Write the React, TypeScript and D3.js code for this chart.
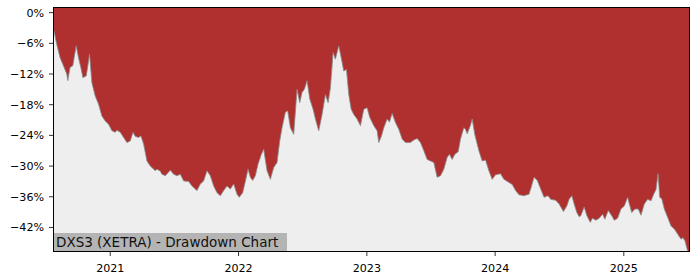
import React from 'react';
import * as d3 from 'd3';

// decimal year of each observation
const DATES: number[] = [
  2020.558, 2020.563, 2020.584, 2020.610, 2020.636, 2020.662, 2020.670, 2020.688, 2020.709, 2020.735,
  2020.753, 2020.771, 2020.787, 2020.813, 2020.826, 2020.839, 2020.857, 2020.883, 2020.909, 2020.935,
  2020.961, 2020.987, 2021.013, 2021.039, 2021.052, 2021.078, 2021.104, 2021.130, 2021.156, 2021.177,
  2021.195, 2021.221, 2021.239, 2021.260, 2021.286, 2021.312, 2021.351, 2021.364, 2021.390, 2021.403,
  2021.429, 2021.468, 2021.494, 2021.520, 2021.546, 2021.572, 2021.611, 2021.637, 2021.676, 2021.702,
  2021.728, 2021.754, 2021.780, 2021.806, 2021.832, 2021.858, 2021.884, 2021.910, 2021.936, 2021.962,
  2021.988, 2022.006, 2022.032, 2022.053, 2022.074, 2022.092, 2022.110, 2022.131, 2022.152, 2022.178,
  2022.196, 2022.222, 2022.248, 2022.274, 2022.300, 2022.321, 2022.339, 2022.365, 2022.383, 2022.404,
  2022.430, 2022.456, 2022.477, 2022.495, 2022.513, 2022.534, 2022.555, 2022.581, 2022.599, 2022.625,
  2022.651, 2022.677, 2022.698, 2022.716, 2022.737, 2022.755, 2022.781, 2022.800, 2022.820, 2022.841,
  2022.859, 2022.878, 2022.898, 2022.924, 2022.950, 2022.976, 2023.002, 2023.023, 2023.054, 2023.080,
  2023.093, 2023.114, 2023.132, 2023.158, 2023.176, 2023.197, 2023.223, 2023.249, 2023.275, 2023.301,
  2023.340, 2023.366, 2023.392, 2023.418, 2023.444, 2023.470, 2023.496, 2023.522, 2023.548, 2023.574,
  2023.600, 2023.626, 2023.644, 2023.665, 2023.686, 2023.712, 2023.730, 2023.756, 2023.769, 2023.782,
  2023.808, 2023.821, 2023.842, 2023.873, 2023.899, 2023.925, 2023.951, 2023.977, 2024.003, 2024.042,
  2024.068, 2024.107, 2024.133, 2024.159, 2024.185, 2024.224, 2024.263, 2024.282, 2024.302, 2024.328,
  2024.354, 2024.380, 2024.411, 2024.432, 2024.471, 2024.497, 2024.531, 2024.557, 2024.575, 2024.596,
  2024.614, 2024.635, 2024.653, 2024.666, 2024.692, 2024.713, 2024.739, 2024.757, 2024.783, 2024.809,
  2024.835, 2024.853, 2024.879, 2024.906, 2024.926, 2024.952, 2024.978, 2025.004, 2025.030, 2025.043,
  2025.062, 2025.087, 2025.113, 2025.134, 2025.160, 2025.186, 2025.212, 2025.233, 2025.251, 2025.267,
  2025.280, 2025.296, 2025.316, 2025.343, 2025.368, 2025.394, 2025.420, 2025.446, 2025.459, 2025.477,
  2025.493, 2025.511,
];

// drawdown in percent
const DRAWDOWN: number[] = [
  -3.4, -3.6, -6.2, -8.8, -10.4, -12.0, -13.3, -10.7, -10.4, -6.5,
  -8.8, -10.7, -12.7, -12.4, -10.4, -8.1, -13.7, -16.3, -17.9, -20.2,
  -21.2, -21.8, -23.1, -23.4, -23.0, -23.4, -24.4, -25.4, -25.1, -23.4,
  -24.2, -24.4, -24.1, -25.7, -29.0, -30.0, -30.9, -30.6, -31.0, -31.6,
  -31.9, -30.8, -31.6, -31.9, -31.6, -32.9, -33.0, -33.9, -34.8, -33.5,
  -32.9, -30.9, -31.9, -33.9, -35.2, -35.8, -34.8, -33.9, -34.5, -33.5,
  -35.5, -36.1, -35.2, -33.0, -30.6, -32.2, -32.8, -31.9, -29.6, -27.7,
  -26.7, -30.9, -32.6, -30.3, -29.3, -25.1, -22.5, -19.5, -19.2, -22.5,
  -23.8, -15.0, -17.6, -15.6, -15.0, -13.3, -16.9, -18.9, -20.8, -23.1,
  -19.9, -16.0, -17.6, -14.7, -7.8, -9.1, -6.5, -8.8, -11.4, -11.1,
  -16.0, -18.9, -19.9, -20.8, -22.1, -18.9, -18.6, -20.5, -22.1, -23.1,
  -25.4, -24.1, -22.5, -20.8, -21.4, -19.7, -21.5, -22.8, -24.7, -25.4,
  -25.4, -24.9, -24.6, -25.4, -27.0, -28.7, -29.0, -29.3, -32.2, -31.9,
  -30.6, -28.3, -27.7, -28.7, -27.7, -27.2, -24.7, -22.5, -22.8, -23.7,
  -22.0, -20.8, -23.9, -27.0, -29.0, -28.8, -30.9, -32.6, -31.7, -31.5,
  -32.6, -33.2, -33.6, -34.8, -35.6, -35.8, -35.5, -34.0, -32.2, -32.8,
  -34.5, -36.1, -35.8, -36.5, -36.7, -37.4, -38.9, -37.8, -36.5, -35.8,
  -37.4, -39.1, -39.9, -39.7, -38.0, -39.7, -41.0, -40.2, -40.6, -40.2,
  -39.4, -40.4, -38.7, -39.7, -40.6, -40.2, -38.4, -37.8, -36.1, -37.4,
  -39.1, -38.4, -38.4, -39.6, -37.4, -36.5, -36.8, -35.5, -34.6, -31.5,
  -36.1, -36.4, -38.4, -40.1, -41.7, -42.3, -43.3, -44.3, -44.0, -44.6,
  -46.2, -47.5,
];

const Y_TICKS: number[] = [0, -6, -12, -18, -24, -30, -36, -42];
const X_TICK_YEARS: number[] = [2021, 2022, 2023, 2024, 2025];
const TITLE = 'DXS3 (XETRA) - Drawdown Chart';

function decYearToDate(v: number): Date {
  const yr = Math.floor(v);
  const s = Date.UTC(yr, 0, 1);
  const e = Date.UTC(yr + 1, 0, 1);
  return new Date(s + (v - yr) * (e - s));
}

export default function App() {
  const W = 700, H = 280;
  const L = 53, R = 690, T = 7, B = 252;
  const font = '"DejaVu Sans", sans-serif';

  const x = d3.scaleUtc()
    .domain([decYearToDate(2020.555), decYearToDate(2025.516)])
    .range([L, R]);
  const y = d3.scaleLinear().domain([1.1, -46.8]).range([T, B]);

  const data = DATES.map((d, i) => ({ date: decYearToDate(d), v: DRAWDOWN[i] }));

  const area = d3.area<{ date: Date; v: number }>()
    .x(d => x(d.date))
    .y0(T)
    .y1(d => y(d.v));
  const line = d3.line<{ date: Date; v: number }>()
    .x(d => x(d.date))
    .y(d => y(d.v));

  return (
    <svg width={W} height={H} style={{ position: 'absolute', left: 0, top: 0, display: 'block' }}>
      <rect x={0} y={0} width={W} height={H} fill="#ffffff" />
      <defs>
        <clipPath id="plotclip">
          <rect x={L} y={T} width={R - L} height={B - T} />
        </clipPath>
      </defs>
      <rect x={L} y={T} width={R - L} height={B - T} fill="#eeeeee" />
      <g clipPath="url(#plotclip)">
        <path d={area(data) || ''} fill="#b03030" />
        <path d={line(data) || ''} fill="none" stroke="#8a8a8a" strokeWidth={0.8} />
        <rect x={L} y={233} width={234} height={19} fill="#b4b4b4" />
        <text x={56} y={247.3} fontFamily={font} fontSize={13.5} fill="#111">{TITLE}</text>
      </g>
      <rect x={L + 0.5} y={T + 0.5} width={R - L - 1} height={B - T - 1} fill="none" stroke="#000" strokeWidth={1} />
      {Y_TICKS.map(t => (
        <g key={t}>
          <line x1={L - 4} x2={L} y1={y(t)} y2={y(t)} stroke="#000" strokeWidth={0.8} />
          <text x={L - 9} y={y(t)} dy="0.36em" textAnchor="end" fontFamily={font} fontSize={11.1} fill="#000">
            {(t < 0 ? '\u2212' + Math.abs(t) : String(t)) + '%'}
          </text>
        </g>
      ))}
      {X_TICK_YEARS.map(yr => {
        const px = x(new Date(Date.UTC(yr, 0, 1)));
        return (
          <g key={yr}>
            <line x1={px} x2={px} y1={B} y2={B + 4} stroke="#000" strokeWidth={0.8} />
            <text x={px} y={271.8} textAnchor="middle" fontFamily={font} fontSize={11.1} fill="#000">{yr}</text>
          </g>
        );
      })}
    </svg>
  );
}
